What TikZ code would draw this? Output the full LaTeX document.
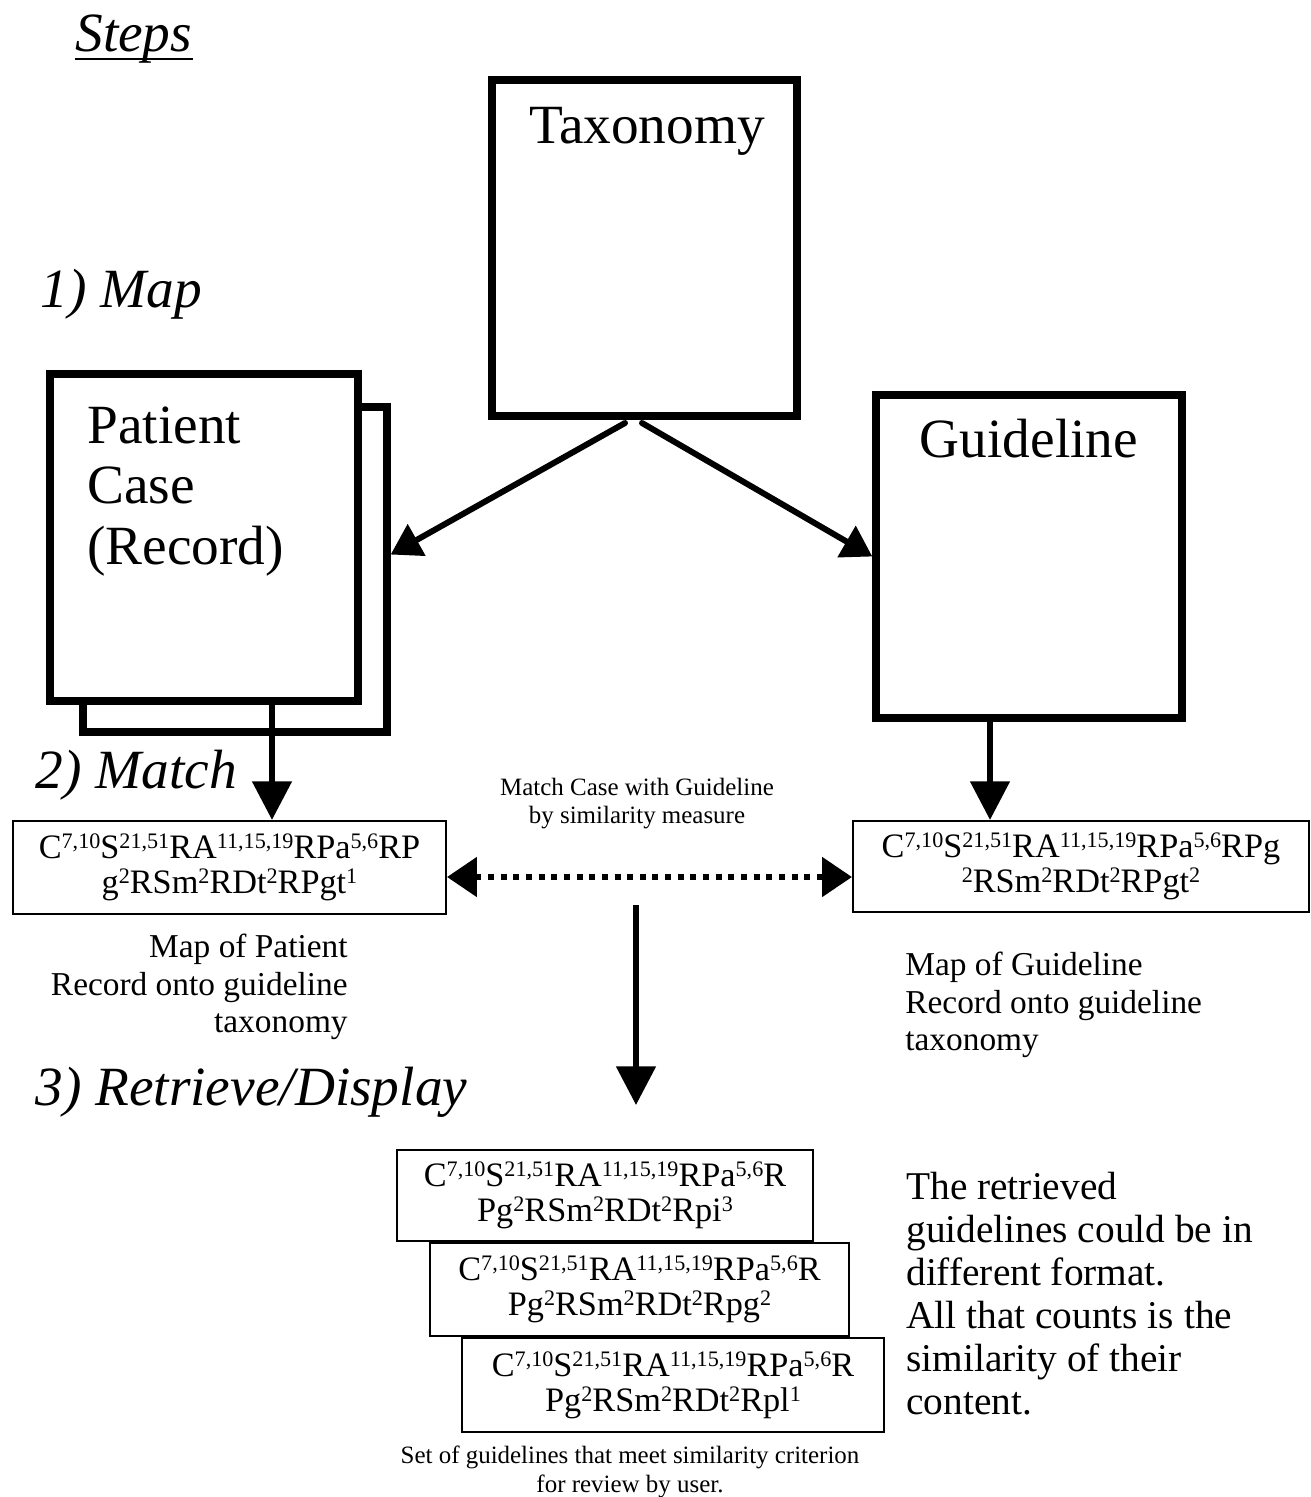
\documentclass[tikz,border=0pt]{standalone}
\usepackage{fontspec}
\setmainfont{Liberation Serif}
\usetikzlibrary{arrows.meta,calc}
\newcommand\fBig{\fontsize{31.5}{34.6}\selectfont}
\newcommand\fStep{\fontsize{31.5}{34}\selectfont\itshape}
\newcommand\fForm{\fontsize{19.5}{20}\selectfont}
\newcommand\fMid{\fontsize{19}{21.3}\selectfont}
\newcommand\fSmall{\fontsize{14.2}{16}\selectfont}
\newcommand\fNote{\fontsize{22.4}{24.5}\selectfont}
\newcommand\sps[1]{\raisebox{5.7pt}{\fontsize{12.6}{12.6}\selectfont #1}}
\begin{document}
\begin{tikzpicture}[x=0.02cm,y=-0.02cm,
  bigbox/.style={draw, line width=4.2pt, fill=white, inner sep=0pt},
  fbox/.style={draw, line width=1.2pt, fill=white, inner sep=0pt, align=center, font=\fForm},
  steplabel/.style={anchor=base west, inner sep=0pt, font=\fStep},
  boxtext/.style={inner sep=0pt, font=\fBig},
  note/.style={inner sep=0pt},
  diagarrow/.style={line width=3.4pt, line cap=round, -{Triangle[length=17pt,width=20pt]}},
  downarrow/.style={line width=3.4pt, -{Triangle[length=22pt,width=22pt]}},
  dotarrow/.style={line width=3.4pt, dash pattern=on 3.4pt off 3.8pt,
     {Triangle[length=17pt,width=22pt]}-{Triangle[length=17pt,width=22pt]}}
]
\useasboundingbox (0,0) rectangle (1311,1497);

% step labels
\node[steplabel] (steps) at (75,52) {Steps};
\draw[line width=1.7pt] ($(steps.base west)+(0,7)$) -- ($(steps.base east)+(0,7)$);
\node[steplabel] (map) at (40,307) {1) Map};
\node[steplabel] (match) at (35,788) {2) Match};
\node[steplabel] (retr) at (35,1105) {3) Retrieve/Display};

% big boxes
\node[bigbox, minimum width=6.10cm, minimum height=6.72cm] (tax) at (644.5,248) {};
\node[boxtext, anchor=base] (taxt) at (647,143) {Taxonomy};
\node[bigbox, minimum width=6.08cm, minimum height=6.50cm] (pback) at (235,569.5) {};
\node[bigbox, minimum width=6.16cm, minimum height=6.54cm] (pfront) at (204,537.5) {};
\node[boxtext, anchor=north west, align=left] (pt) at (87,406) {Patient\\Case\\(Record)};
\node[bigbox, minimum width=6.12cm, minimum height=6.46cm] (guide) at (1029,556.5) {};
\node[boxtext, anchor=base] (gt) at (1029,457) {Guideline};

% arrows from taxonomy
\coordinate (t1) at (625,423);
\coordinate (t2) at (642,423);
\draw[diagarrow] (t1) -- ($(pback.north east)!0.455!(pback.south east)$);
\draw[diagarrow] (t2) -- (guide.west);

% formula boxes
\node[fbox, minimum width=8.66cm, minimum height=1.86cm] (lbox) at (229.5,867.5)
  {C\sps{7,10}S\sps{21,51}RA\sps{11,15,19}RPa\sps{5,6}RP\\g\sps{2}RSm\sps{2}RDt\sps{2}RPgt\sps{1}};
\node[fbox, minimum width=9.12cm, minimum height=1.82cm] (rbox) at (1081,866.5)
  {C\sps{7,10}S\sps{21,51}RA\sps{11,15,19}RPa\sps{5,6}RPg\\\sps{2}RSm\sps{2}RDt\sps{2}RPgt\sps{2}};

\draw[downarrow] (pfront.south -| 272,0) -- (lbox.north -| 272,0);
\draw[downarrow] (guide.south -| 990,0) -- (rbox.north -| 990,0);

\draw[dotarrow] ($(lbox.east)+(0,9.5)$) -- ($(rbox.west)+(0,10.5)$);
\node[note, anchor=north, align=center, font=\fSmall] (mtext) at (637,778)
  {Match Case with Guideline\\by similarity measure};

\node[note, anchor=north east, align=right, font=\fMid] (lmap) at (348,934)
  {Map of Patient\\Record onto guideline\\taxonomy};
\node[note, anchor=north west, align=left, font=\fMid] (rmap) at (905,952)
  {Map of Guideline\\Record onto guideline\\taxonomy};

% retrieve arrow
\coordinate (m1) at (636,905);
\coordinate (m2) at (636,1105);
\draw[downarrow] (m1) -- (m2);

% stacked result boxes
\node[fbox, minimum width=8.32cm, minimum height=1.82cm] (s1) at (605,1195.5)
  {C\sps{7,10}S\sps{21,51}RA\sps{11,15,19}RPa\sps{5,6}R\\Pg\sps{2}RSm\sps{2}RDt\sps{2}Rpi\sps{3}};
\node[fbox, minimum width=8.38cm, minimum height=1.86cm] (s2) at (639.5,1289.5)
  {C\sps{7,10}S\sps{21,51}RA\sps{11,15,19}RPa\sps{5,6}R\\Pg\sps{2}RSm\sps{2}RDt\sps{2}Rpg\sps{2}};
\node[fbox, minimum width=8.44cm, minimum height=1.88cm] (s3) at (673,1385)
  {C\sps{7,10}S\sps{21,51}RA\sps{11,15,19}RPa\sps{5,6}R\\Pg\sps{2}RSm\sps{2}RDt\sps{2}Rpl\sps{1}};

\node[note, anchor=north, align=center, font=\fSmall] (settext) at (630,1446)
  {Set of guidelines that meet similarity criterion\\for review by user.};

\node[note, anchor=north west, align=left, font=\fNote] (retext) at (906,1172)
  {The retrieved\\guidelines could be in\\different format.\\All that counts is the\\similarity of their\\content.};
\end{tikzpicture}
\end{document}
